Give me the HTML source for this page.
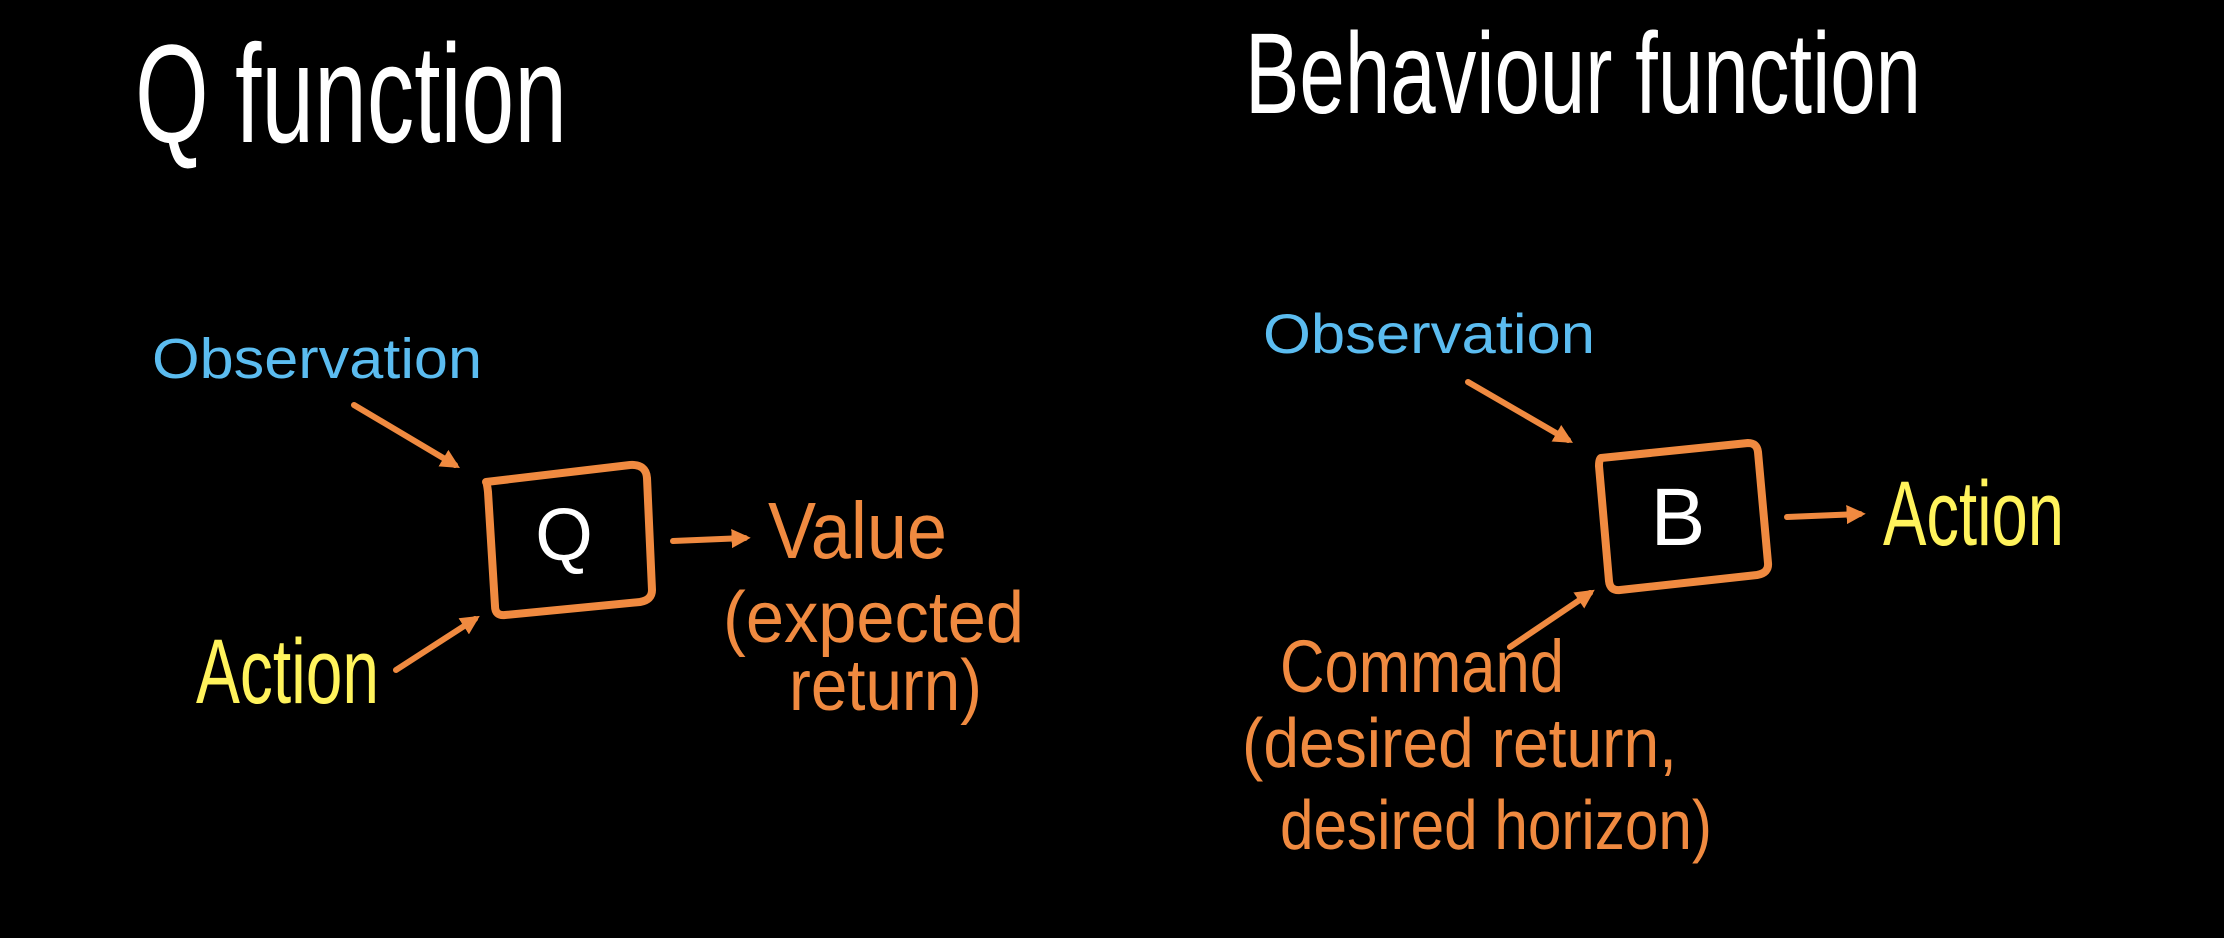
<!DOCTYPE html>
<html><head><meta charset="utf-8"><style>
html,body{margin:0;padding:0;background:#000;}
svg{display:block;}
text{font-family:"Liberation Sans",sans-serif;}
</style></head><body>
<svg width="2224" height="938" viewBox="0 0 2224 938" xmlns="http://www.w3.org/2000/svg">
<rect width="2224" height="938" fill="#000"/>
<defs>
<marker id="ah" viewBox="0 0 10 10" refX="7" refY="5" markerWidth="3.2" markerHeight="3.2" orient="auto">
<path d="M0,0 L10,5 L0,10 z" fill="#f08a40"/>
</marker>
</defs>
<!-- titles -->
<text x="135" y="142" font-size="140" fill="#fff" textLength="432" lengthAdjust="spacingAndGlyphs">Q function</text>
<text x="1245" y="113" font-size="115" fill="#fff" textLength="676" lengthAdjust="spacingAndGlyphs">Behaviour function</text>

<!-- Left diagram -->
<text x="152" y="378" font-size="57" fill="#5bbcf0" textLength="330" lengthAdjust="spacingAndGlyphs">Observation</text>
<text x="196" y="703" font-size="92" fill="#fff35c" textLength="183" lengthAdjust="spacingAndGlyphs">Action</text>
<path d="M486,482 L630,465 Q646,464 647,478 L652,590 Q652,600 640,602 L505,615 Q495,616 495,606 L488,492 Q487,483 486,482 Z" fill="none" stroke="#f08a40" stroke-width="8" stroke-linejoin="round"/>
<text x="564" y="560" font-size="74" fill="#fff" text-anchor="middle">Q</text>
<line x1="354" y1="405" x2="455" y2="465" stroke="#f08a40" stroke-width="6" stroke-linecap="round" marker-end="url(#ah)"/>
<line x1="396" y1="670" x2="475" y2="619" stroke="#f08a40" stroke-width="6" stroke-linecap="round" marker-end="url(#ah)"/>
<line x1="673" y1="541" x2="745" y2="538" stroke="#f08a40" stroke-width="6" stroke-linecap="round" marker-end="url(#ah)"/>
<text x="768" y="558" font-size="80" fill="#f08a40" textLength="179" lengthAdjust="spacingAndGlyphs">Value</text>
<text x="723" y="642" font-size="72" fill="#f08a40" textLength="301" lengthAdjust="spacingAndGlyphs">(expected</text>
<text x="789" y="710" font-size="72" fill="#f08a40" textLength="193" lengthAdjust="spacingAndGlyphs">return)</text>

<!-- Right diagram -->
<text x="1263" y="353" font-size="56" fill="#5bbcf0" textLength="332" lengthAdjust="spacingAndGlyphs">Observation</text>
<path d="M1601,458 L1748,443 Q1757,443 1758,452 L1768,563 Q1769,573 1757,575 L1620,590 Q1610,591 1609,581 L1599,466 Q1599,459 1601,458 Z" fill="none" stroke="#f08a40" stroke-width="8" stroke-linejoin="round"/>
<text x="1678" y="545" font-size="82" fill="#fff" text-anchor="middle">B</text>
<line x1="1468" y1="382" x2="1568" y2="440" stroke="#f08a40" stroke-width="6" stroke-linecap="round" marker-end="url(#ah)"/>
<line x1="1510" y1="647" x2="1590" y2="593" stroke="#f08a40" stroke-width="6" stroke-linecap="round" marker-end="url(#ah)"/>
<line x1="1787" y1="517" x2="1860" y2="514" stroke="#f08a40" stroke-width="6" stroke-linecap="round" marker-end="url(#ah)"/>
<text x="1883" y="545" font-size="92" fill="#fff35c" textLength="181" lengthAdjust="spacingAndGlyphs">Action</text>
<text x="1280" y="692" font-size="74" fill="#f08a40" textLength="284" lengthAdjust="spacingAndGlyphs">Command</text>
<text x="1242" y="767" font-size="70" fill="#f08a40" textLength="435" lengthAdjust="spacingAndGlyphs">(desired return,</text>
<text x="1280" y="849" font-size="70" fill="#f08a40" textLength="432" lengthAdjust="spacingAndGlyphs">desired horizon)</text>
</svg>
</body></html>
